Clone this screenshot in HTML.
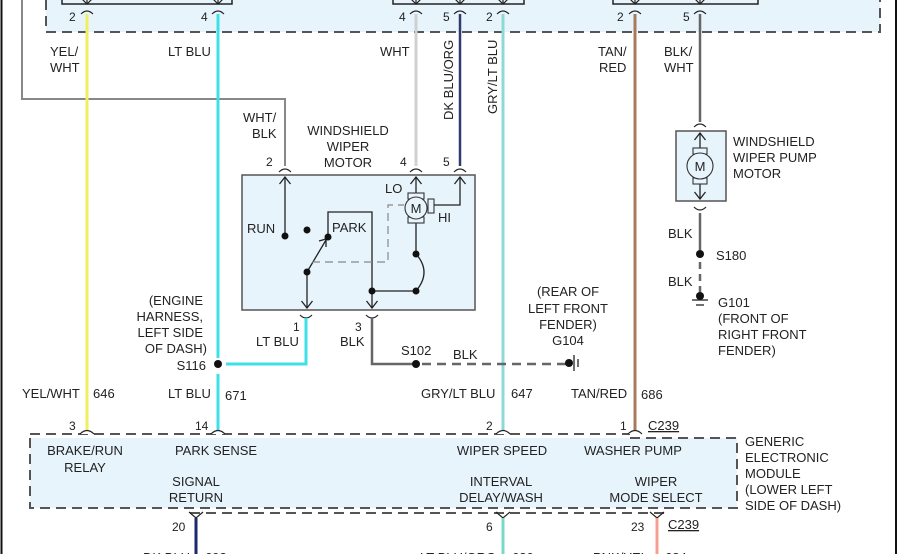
<!DOCTYPE html>
<html><head><meta charset="utf-8"><style>
html,body{margin:0;padding:0;background:#fff;}
svg{display:block;font-family:"Liberation Sans",Arial,sans-serif;font-size:13px;fill:#222;}
</style></head><body>
<svg width="900" height="554" viewBox="0 0 900 554" xmlns="http://www.w3.org/2000/svg">
<defs>
<marker id="ar" viewBox="0 0 10 12" refX="9" refY="6" markerWidth="10" markerHeight="12" orient="auto" markerUnits="userSpaceOnUse"><path d="M2,0.5 L9,6 L2,11.5" fill="none" stroke="#222" stroke-width="1.3"/></marker>
</defs>
<!-- page borders -->
<line x1="1.5" y1="0" x2="1.5" y2="554" stroke="#111" stroke-width="2"/>
<line x1="896" y1="0" x2="896" y2="554" stroke="#111" stroke-width="2"/>

<!-- top module -->
<rect x="46" y="-10" width="834" height="42" fill="#e8f4fc"/>
<path d="M46,0 V32 H880 V0" fill="none" stroke="#555" stroke-width="2" stroke-dasharray="10,6"/>
<rect x="62" y="-10" width="170" height="14" fill="none" stroke="#222" stroke-width="1.5"/>
<rect x="393" y="-10" width="131" height="14" fill="none" stroke="#222" stroke-width="1.5"/>
<rect x="613" y="-10" width="145" height="14" fill="none" stroke="#222" stroke-width="1.5"/>
<g fill="none" stroke="#222" stroke-width="1.2">
<path d="M81,-2 L87,4 L93,-2 M212,-2 L218,4 L224,-2 M410,-2 L416,4 L422,-2 M454,-2 L460,4 L466,-2 M497,-2 L503,4 L509,-2 M629,-2 L635,4 L641,-2 M694,-2 L700,4 L706,-2"/>
<path d="M81,14 Q87,8 93,14 M212,14 Q218,8 224,14 M410,14 Q416,8 422,14 M454,14 Q460,8 466,14 M497,14 Q503,8 509,14 M629,14 Q635,8 641,14 M694,14 Q700,8 706,14"/>
<path d="M87,-4V4 M218,-4V4 M416,-4V4 M460,-4V4 M503,-4V4 M635,-4V4 M700,-4V4"/>
</g>
<g font-size="12"><text x="69" y="21">2</text><text x="201" y="21">4</text><text x="399" y="21">4</text><text x="443" y="21">5</text><text x="486" y="21">2</text><text x="617" y="21">2</text><text x="683" y="21">5</text></g>

<!-- wires top section -->
<path d="M22,0 V99 H285 V166" fill="none" stroke="#888" stroke-width="2"/>
<line x1="87" y1="14" x2="87" y2="430" stroke="#f0ef60" stroke-width="3"/>
<line x1="218" y1="14" x2="218" y2="358" stroke="#3ee0e8" stroke-width="3"/>
<line x1="218" y1="374" x2="218" y2="430" stroke="#3ee0e8" stroke-width="3"/>
<line x1="416" y1="14" x2="416" y2="166" stroke="#d0d0d0" stroke-width="3"/>
<line x1="460" y1="14" x2="460" y2="166" stroke="#333a70" stroke-width="2.5"/>
<line x1="503" y1="14" x2="503" y2="430" stroke="#8ed8d8" stroke-width="3"/>
<line x1="635" y1="14" x2="635" y2="430" stroke="#a87a5c" stroke-width="3"/>
<line x1="700" y1="14" x2="700" y2="122" stroke="#666" stroke-width="2.5"/>

<text x="50" y="56">YEL/</text><text x="50" y="72">WHT</text>
<text x="168" y="56">LT BLU</text>
<text x="380" y="56">WHT</text>
<text transform="translate(453,120) rotate(-90)">DK BLU/ORG</text>
<text transform="translate(497,114) rotate(-90)">GRY/LT BLU</text>
<text x="598" y="56">TAN/</text><text x="599" y="72">RED</text>
<text x="664" y="56">BLK/</text><text x="664" y="72">WHT</text>

<!-- wiper motor -->
<text x="243" y="122">WHT/</text><text x="252" y="138">BLK</text>
<text x="348" y="135" text-anchor="middle">WINDSHIELD</text>
<text x="348" y="151" text-anchor="middle">WIPER</text>
<text x="348" y="167" text-anchor="middle">MOTOR</text>
<g font-size="12"><text x="266" y="166">2</text><text x="400" y="166">4</text><text x="443" y="166">5</text></g>
<g fill="none" stroke="#222" stroke-width="1.2"><path d="M279,172 Q285,166 291,172 M410,172 Q416,166 422,172 M454,172 Q460,166 466,172 M300,315 Q306,321 312,315 M366,315 Q372,321 378,315 M694,127 Q700,121 706,127 M694,207 Q700,213 706,207"/></g>
<rect x="242" y="175" width="233" height="135" fill="#e8f4fc" stroke="#555" stroke-width="1.5"/>
<g stroke="#222" stroke-width="1.3" fill="none">
<line x1="285" y1="236" x2="285" y2="177" marker-end="url(#ar)"/>
<line x1="307" y1="272" x2="307" y2="308" marker-end="url(#ar)"/>
<path d="M328,237 V212 H372 V308" marker-end="url(#ar)"/>
<line x1="307" y1="272" x2="326" y2="240"/>
<path d="M319,241 L326,239 L326,247" />
<line x1="416" y1="193" x2="416" y2="177" marker-end="url(#ar)"/>
<path d="M434,205 H460 V177" marker-end="url(#ar)"/>
<path d="M416,223 V254 Q432,272 416,291 H372"/>
</g>
<path d="M312,262 H388 V205 H404" fill="none" stroke="#888" stroke-width="1.2" stroke-dasharray="8,5"/>
<rect x="408" y="193" width="16" height="6" fill="#e8f4fc" stroke="#333" stroke-width="1.1"/>
<rect x="408" y="217" width="16" height="6" fill="#e8f4fc" stroke="#333" stroke-width="1.1"/>
<rect x="428" y="199" width="6" height="14" fill="#e8f4fc" stroke="#333" stroke-width="1.1"/>
<circle cx="416" cy="208" r="11" fill="#e8f4fc" stroke="#333" stroke-width="1.1"/>
<text x="416" y="213" text-anchor="middle">M</text>
<g fill="#111"><circle cx="285" cy="236" r="3.5"/><circle cx="307" cy="230" r="3.5"/><circle cx="328" cy="237" r="3.5"/><circle cx="307" cy="272" r="3.5"/><circle cx="416" cy="254" r="3.5"/><circle cx="416" cy="291" r="3.5"/><circle cx="372" cy="291" r="3.5"/></g>
<text x="247" y="233">RUN</text><text x="332" y="232">PARK</text><text x="385" y="193">LO</text><text x="438" y="222">HI</text>

<!-- below wiper motor -->
<path d="M306,318 V364 H226" fill="none" stroke="#3ee0e8" stroke-width="3"/>
<path d="M372,318 V364 H416" fill="none" stroke="#666" stroke-width="2.5"/>
<line x1="422" y1="364" x2="566" y2="364" stroke="#666" stroke-width="2.5" stroke-dasharray="9,6"/>
<circle cx="218" cy="364" r="4" fill="#111"/><circle cx="416" cy="364" r="4" fill="#111"/>
<circle cx="569" cy="363" r="4" fill="#111"/>
<line x1="574" y1="355" x2="574" y2="371" stroke="#222" stroke-width="1.3"/>
<line x1="578" y1="359" x2="578" y2="367" stroke="#222" stroke-width="1.3"/>
<text x="293" y="331" font-size="12">1</text><text x="256" y="346">LT BLU</text>
<text x="355" y="331" font-size="12">3</text><text x="340" y="346">BLK</text>
<text x="401" y="355">S102</text><text x="453" y="359">BLK</text>
<g text-anchor="middle"><text x="568" y="296">(REAR OF</text><text x="568" y="313">LEFT FRONT</text><text x="568" y="329">FENDER)</text><text x="568" y="345">G104</text></g>
<g text-anchor="end"><text x="203" y="305">(ENGINE</text><text x="203" y="321">HARNESS,</text><text x="203" y="337">LEFT SIDE</text><text x="207" y="353">OF DASH)</text><text x="206" y="370">S116</text></g>

<!-- pump motor -->
<rect x="676" y="131" width="50" height="70" fill="#e8f4fc" stroke="#555" stroke-width="1.5"/>
<g stroke="#222" stroke-width="1.3" fill="none"><line x1="700" y1="148" x2="700" y2="133" marker-end="url(#ar)"/><line x1="700" y1="184" x2="700" y2="199" marker-end="url(#ar)"/></g>
<rect x="693" y="148" width="14" height="6" fill="#e8f4fc" stroke="#333" stroke-width="1.1"/>
<rect x="693" y="178" width="14" height="6" fill="#e8f4fc" stroke="#333" stroke-width="1.1"/>
<circle cx="700" cy="166" r="13" fill="#e8f4fc" stroke="#333" stroke-width="1.1"/>
<text x="700" y="171" text-anchor="middle">M</text>
<text x="733" y="146">WINDSHIELD</text><text x="733" y="162">WIPER PUMP</text><text x="733" y="178">MOTOR</text>
<line x1="700" y1="213" x2="700" y2="250" stroke="#666" stroke-width="2.5"/>
<circle cx="700" cy="254" r="4" fill="#111"/>
<line x1="700" y1="262" x2="700" y2="292" stroke="#666" stroke-width="2.5" stroke-dasharray="7,5"/>
<circle cx="700" cy="296" r="4" fill="#111"/>
<line x1="692" y1="300" x2="708" y2="300" stroke="#222" stroke-width="1.3"/><line x1="696" y1="305" x2="704" y2="305" stroke="#222" stroke-width="1.3"/>
<text x="668" y="238">BLK</text><text x="716" y="260">S180</text><text x="668" y="286">BLK</text>
<text x="718" y="307">G101</text><text x="718" y="323">(FRONT OF</text><text x="718" y="339">RIGHT FRONT</text><text x="718" y="355">FENDER)</text>

<!-- wire labels row -->
<text x="22" y="398">YEL/WHT</text><text x="93" y="398">646</text>
<text x="168" y="398">LT BLU</text><text x="225" y="400">671</text>
<text x="421" y="398">GRY/LT BLU</text><text x="511" y="398">647</text>
<text x="571" y="398">TAN/RED</text><text x="641" y="399">686</text>

<!-- bottom module -->
<rect x="30" y="438" width="707" height="70" fill="#e8f4fc"/>
<path d="M30,438 V508 H737 V438 H630" fill="none" stroke="#555" stroke-width="2" stroke-dasharray="10,6"/>
<line x1="30" y1="434" x2="630" y2="434" stroke="#555" stroke-width="2" stroke-dasharray="10,6"/>
<line x1="190" y1="513" x2="665" y2="513" stroke="#555" stroke-width="2" stroke-dasharray="10,6"/>
<g fill="#fff" stroke="#222" stroke-width="1.2"><path d="M80,434 Q87,427 94,434 M211,434 Q218,427 225,434 M496,434 Q503,427 510,434 M628,434 Q635,427 642,434"/></g>
<g fill="none" stroke="#222" stroke-width="1.2"><path d="M189,512 L196,518 L203,512 M496,512 L503,518 L510,512 M650,512 L657,518 L664,512"/></g>
<g font-size="12"><text x="69" y="430">3</text><text x="195" y="430">14</text><text x="486" y="430">2</text><text x="620" y="430">1</text></g>
<text x="648" y="430" text-decoration="underline">C239</text>
<g text-anchor="middle">
<text x="85" y="455">BRAKE/RUN</text><text x="85" y="472">RELAY</text>
<text x="216" y="455">PARK SENSE</text>
<text x="196" y="486">SIGNAL</text><text x="196" y="502">RETURN</text>
<text x="502" y="455">WIPER SPEED</text>
<text x="633" y="455">WASHER PUMP</text>
<text x="501" y="486">INTERVAL</text><text x="501" y="502">DELAY/WASH</text>
<text x="656" y="486">WIPER</text><text x="656" y="502">MODE SELECT</text>
</g>
<text x="745" y="446">GENERIC</text><text x="745" y="462">ELECTRONIC</text><text x="745" y="478">MODULE</text><text x="745" y="494">(LOWER LEFT</text><text x="745" y="510">SIDE OF DASH)</text>

<!-- bottom wires -->
<line x1="196" y1="518" x2="196" y2="554" stroke="#1a2a6a" stroke-width="3"/>
<line x1="503" y1="518" x2="503" y2="554" stroke="#7ad8c8" stroke-width="3"/>
<line x1="657" y1="518" x2="657" y2="554" stroke="#f4a090" stroke-width="3"/>
<text x="172" y="531" font-size="12">20</text><text x="486" y="531" font-size="12">6</text><text x="631" y="531" font-size="12">23</text>
<text x="668" y="529" text-decoration="underline">C239</text>
<text x="143" y="562">DK BLU</text><text x="205" y="562">693</text>
<text x="420" y="562">LT BLU/ORG</text><text x="512" y="562">680</text>
<text x="593" y="562">PNK/YEL</text><text x="665" y="562">684</text>
</svg>
</body></html>
